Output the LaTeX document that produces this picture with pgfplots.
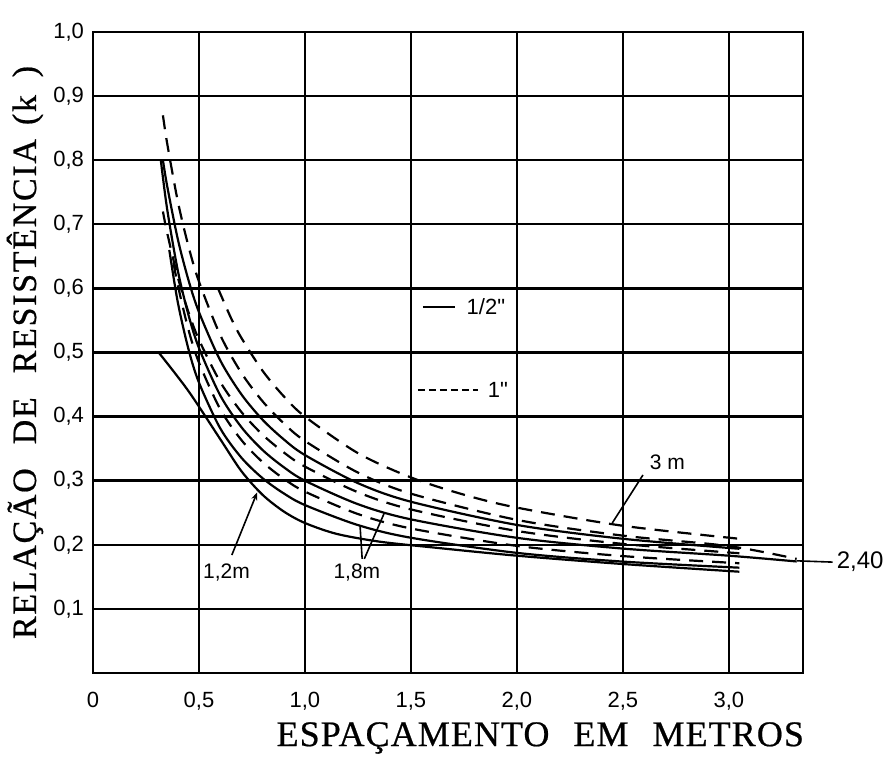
\documentclass[border=0pt]{standalone}
\usepackage{pgfplots}
\pgfplotsset{compat=1.18}
\usetikzlibrary{arrows.meta}
\usepackage{fontspec}
\setmainfont{Liberation Sans}
\newfontfamily\ylabfont[LetterSpace=5,FakeBold=0.6]{Liberation Serif}
\newfontfamily\xlabfont[LetterSpace=3,FakeBold=0.6]{Liberation Serif}
\begin{document}
\begin{tikzpicture}
\useasboundingbox (-46.5pt,-41.5pt) rectangle (398.5pt,336.5pt);
\begin{axis}[
  scale only axis, width=355pt, height=320.5pt,
  xmin=0, xmax=3.35, ymin=0, ymax=1,
  clip=false,
  xtick={0,0.5,1,1.5,2,2.5,3},
  xticklabels={0,{0,5},{1,0},{1,5},{2,0},{2,5},{3,0}},
  ytick={0.1,0.2,0.3,0.4,0.5,0.6,0.7,0.8,0.9,1.0},
  yticklabels={{0,1},{0,2},{0,3},{0,4},{0,5},{0,6},{0,7},{0,8},{0,9},{1,0}},
  grid=major,
  major grid style={black, line width=1.2pt},
  axis line style={black, line width=1.3pt},
  major tick length=0pt,
  xticklabel style={font=\fontsize{11}{12}\selectfont, yshift=-6pt},
  yticklabel style={font=\fontsize{11}{12}\selectfont, xshift=-1pt},
  xlabel={\xlabfont\fontsize{18}{20}\selectfont ESPAÇAMENTO\hspace{12pt}EM\hspace{12pt}METROS},
  xlabel style={at={(axis description cs:0.63,-0.1014)}, anchor=center},
  ylabel={\ylabfont\fontsize{17}{19}\selectfont RELAÇÃO\hspace{12pt}DE\hspace{12pt}RESISTÊNCIA\hspace{7pt}(\textsc{k}\hspace{8pt})},
  ylabel style={at={(axis description cs:-0.0958,0.5)}, anchor=center},
  solidc/.style={black, line width=1.1pt, smooth},
  dashc/.style={black, line width=1.1pt, smooth, dash pattern=on 7pt off 4.5pt},
]
% 1/2" electrodes (solid): 1.2 m, 1.8 m, 2.4 m, 3 m
\addplot[solidc] coordinates {(0.31,0.50)(0.45,0.44)(0.60,0.365)(0.70,0.315)(0.80,0.278)(0.90,0.252)(1.00,0.234)(1.15,0.217)(1.35,0.205)(1.60,0.196)(2.00,0.183)(2.50,0.170)(3.05,0.158)};
\addplot[solidc] coordinates {(0.36,0.660)(0.40,0.5785)(0.45,0.5058)(0.50,0.4531)(0.60,0.3819)(0.70,0.336)(0.80,0.3039)(0.90,0.2802)(1.00,0.262)(1.25,0.2308)(1.50,0.211)(2.00,0.1874)(2.50,0.1738)(3.05,0.1643)};
\addplot[solidc] coordinates {(0.32,0.800)(0.35,0.7234)(0.40,0.6281)(0.45,0.5592)(0.50,0.507)(0.60,0.4333)(0.70,0.3836)(0.80,0.3479)(0.90,0.3211)(1.00,0.300)(1.25,0.2634)(1.50,0.2397)(2.00,0.2109)(2.50,0.1941)(3.00,0.183)(3.32,0.174)};
\addplot[solidc] coordinates {(0.33,0.800)(0.35,0.7596)(0.40,0.6771)(0.45,0.6135)(0.50,0.563)(0.60,0.4879)(0.70,0.4348)(0.80,0.3951)(0.90,0.3645)(1.00,0.340)(1.25,0.2962)(1.50,0.2672)(2.00,0.231)(2.50,0.2094)(3.05,0.1938)};
% 1" electrodes (dashed)
\addplot[dashc] coordinates {(0.38,0.640)(0.40,0.6052)(0.45,0.5361)(0.50,0.4843)(0.60,0.4118)(0.70,0.3635)(0.80,0.329)(0.90,0.3031)(1.00,0.283)(1.25,0.248)(1.50,0.2255)(2.00,0.1983)(2.50,0.1824)(3.05,0.1712)};
\addplot[dashc] coordinates {(0.33,0.720)(0.35,0.6866)(0.40,0.6175)(0.45,0.5634)(0.50,0.5199)(0.60,0.4543)(0.70,0.4073)(0.80,0.3718)(0.90,0.3442)(1.00,0.322)(1.25,0.282)(1.50,0.2552)(2.00,0.2216)(2.50,0.2014)(3.05,0.1868)};
\addplot[dashc] coordinates {(0.33,0.870)(0.35,0.8262)(0.40,0.7361)(0.45,0.6663)(0.50,0.6106)(0.60,0.5274)(0.70,0.4682)(0.80,0.4239)(0.90,0.3895)(1.00,0.362)(1.25,0.3127)(1.50,0.2798)(2.00,0.2389)(2.50,0.2143)(3.00,0.198)(3.32,0.178)};
\addplot[dashc] coordinates {(0.59,0.600)(0.65,0.5546)(0.70,0.5229)(0.80,0.4715)(0.90,0.4317)(1.00,0.400)(1.25,0.343)(1.50,0.3051)(1.75,0.2782)(2.00,0.258)(2.50,0.2297)(3.05,0.2094)};
% annotations
\node[font=\fontsize{10.5}{12}\selectfont] at (axis cs:0.63,0.156) {1,2m};
\draw[line width=0.8pt,-{Stealth[length=4pt,width=3pt]}] (axis cs:0.655,0.184) -- (axis cs:0.775,0.282);
\node[font=\fontsize{10.5}{12}\selectfont] at (axis cs:1.245,0.156) {1,8m};
\draw[line width=0.8pt] (axis cs:1.27,0.178) -- (axis cs:1.26,0.230);
\draw[line width=0.8pt] (axis cs:1.28,0.178) -- (axis cs:1.375,0.250);
\node[font=\fontsize{10.5}{12}\selectfont] at (axis cs:2.71,0.328) {3 m};
\draw[line width=0.8pt] (axis cs:2.595,0.309) -- (axis cs:2.45,0.234);
\node[font=\fontsize{12}{14}\selectfont] at (axis cs:3.62,0.173) {2,40};
\draw[line width=0.8pt] (axis cs:3.32,0.175) -- (axis cs:3.49,0.173);
\draw[line width=1pt] (axis cs:1.557,0.571) -- (axis cs:1.708,0.571);
\node[anchor=west, font=\fontsize{11}{12}\selectfont] at (axis cs:1.73,0.571) {1/2\textquotedbl};
\draw[line width=1pt, dash pattern=on 3.5pt off 2pt] (axis cs:1.533,0.441) -- (axis cs:1.816,0.441);
\node[anchor=west, font=\fontsize{11}{12}\selectfont] at (axis cs:1.83,0.441) {1\textquotedbl};
\end{axis}
\end{tikzpicture}
\end{document}
